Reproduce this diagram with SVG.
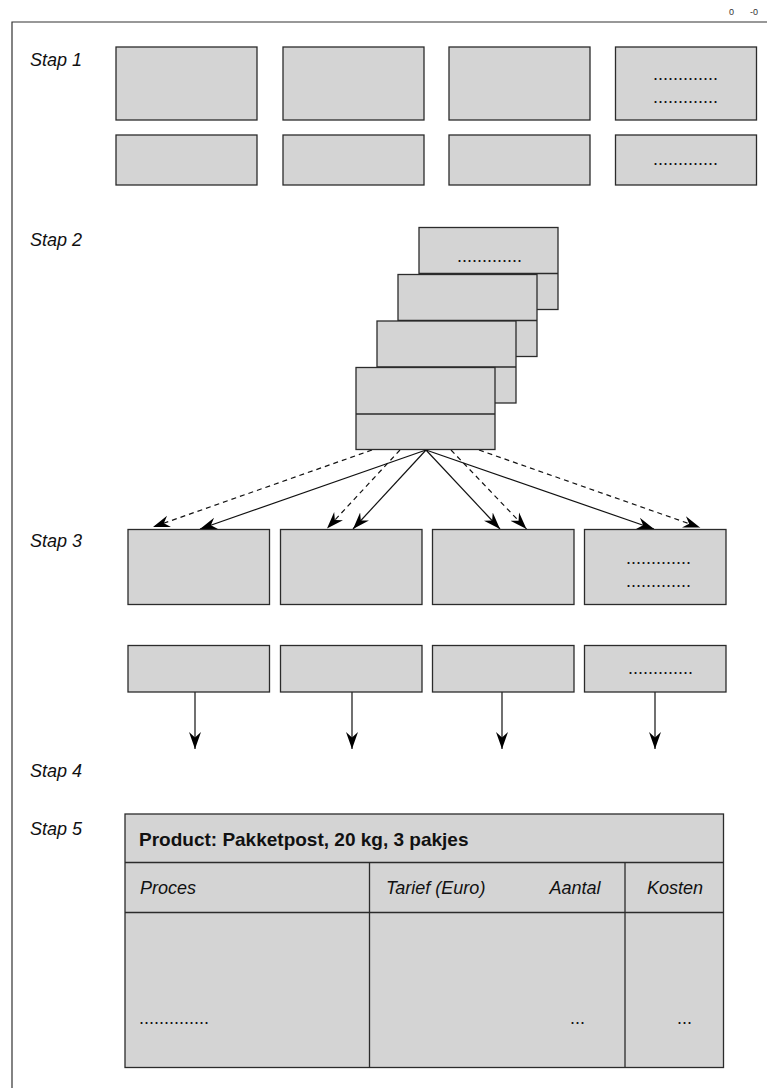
<svg xmlns="http://www.w3.org/2000/svg" width="767" height="1088" viewBox="0 0 767 1088">
<style>
.bg{fill:#ffffff}
.frame{fill:none;stroke:#333;stroke-width:1.2}
.box{fill:#d4d4d4;stroke:#2b2b2b;stroke-width:1.3}
.ln{stroke:#2b2b2b;stroke-width:1.3;fill:none}
.t{font-family:"Liberation Sans",Arial,sans-serif;font-size:18px;fill:#111}
.it{font-style:italic}
.b{font-weight:bold;font-size:19px}
.sm{font-size:9px;fill:#333}
.con{stroke:#111;stroke-width:1.2;fill:none;marker-end:url(#ah)}
.dash{stroke-dasharray:5,4}
</style>
<defs>
<marker id="ah" markerUnits="userSpaceOnUse" markerWidth="20" markerHeight="14" refX="17" refY="6" orient="auto" viewBox="0 0 20 12">
<path d="M17,6 L0,0 L5.5,6 L0,12 Z" fill="#000"/>
</marker>
</defs>
<rect class="bg" x="0" y="0" width="767" height="1088"/>
<text class="t sm" x="729" y="15">0</text>
<text class="t sm" x="750" y="15">-0</text>
<path class="frame" d="M12,1090 L12,22 L770,22"/>

<g id="labels">
<text class="t it" x="30" y="66">Stap 1</text>
<text class="t it" x="30" y="246">Stap 2</text>
<text class="t it" x="30" y="547">Stap 3</text>
<text class="t it" x="30" y="777">Stap 4</text>
<text class="t it" x="30" y="835">Stap 5</text>
</g>

<g id="connectors">
<line class="con dash" x1="372" y1="450" x2="153" y2="527"/>
<line class="con dash" x1="400" y1="450" x2="327" y2="528.5"/>
<line class="con dash" x1="451" y1="450" x2="526.5" y2="529"/>
<line class="con dash" x1="479" y1="450" x2="700" y2="527.5"/>
<line class="con" x1="426" y1="450" x2="200" y2="529"/>
<line class="con" x1="426" y1="450" x2="353" y2="529"/>
<line class="con" x1="426" y1="450" x2="500" y2="529"/>
<line class="con" x1="426" y1="450" x2="654" y2="529"/>
<line class="con" x1="195" y1="692" x2="195" y2="749"/>
<line class="con" x1="352" y1="692" x2="352" y2="749"/>
<line class="con" x1="502" y1="692" x2="502" y2="749"/>
<line class="con" x1="655" y1="692" x2="655" y2="749"/>
</g>

<g id="s1-a1"><rect class="box" x="116" y="47" width="141" height="73"/></g>
<g id="s1-a2"><rect class="box" x="283" y="47" width="141" height="73"/></g>
<g id="s1-a3"><rect class="box" x="449" y="47" width="141" height="73"/></g>
<g id="s1-a4"><rect class="box" x="615.5" y="47" width="141" height="73"/>
<text class="t" x="653" y="80">.............</text>
<text class="t" x="653" y="103">.............</text></g>
<g id="s1-b1"><rect class="box" x="116" y="135" width="141" height="50"/></g>
<g id="s1-b2"><rect class="box" x="283" y="135" width="141" height="50"/></g>
<g id="s1-b3"><rect class="box" x="449" y="135" width="141" height="50"/></g>
<g id="s1-b4"><rect class="box" x="615.5" y="135" width="141" height="50"/>
<text class="t" x="653" y="165">.............</text></g>

<g id="s2-card1"><rect class="box" x="419" y="227.5" width="139" height="82"/><line class="ln" x1="419" y1="273.5" x2="558" y2="273.5"/>
<text class="t" x="457" y="262">.............</text></g>
<g id="s2-card2"><rect class="box" x="398" y="274.5" width="139" height="82"/><line class="ln" x1="398" y1="320.5" x2="537" y2="320.5"/></g>
<g id="s2-card3"><rect class="box" x="377" y="321" width="139" height="82"/><line class="ln" x1="377" y1="367" x2="516" y2="367"/></g>
<g id="s2-card4"><rect class="box" x="356" y="367.5" width="139" height="82"/><line class="ln" x1="356" y1="414" x2="495" y2="414"/></g>

<g id="s3-a1"><rect class="box" x="128" y="529.5" width="141.5" height="75"/></g>
<g id="s3-a2"><rect class="box" x="280.5" y="529.5" width="141.5" height="75"/></g>
<g id="s3-a3"><rect class="box" x="432.5" y="529.5" width="141.5" height="75"/></g>
<g id="s3-a4"><rect class="box" x="584.5" y="529.5" width="141.5" height="75"/>
<text class="t" x="626" y="564">.............</text>
<text class="t" x="626" y="587">.............</text></g>
<g id="s3-b1"><rect class="box" x="128" y="645.5" width="141.5" height="46.5"/></g>
<g id="s3-b2"><rect class="box" x="280.5" y="645.5" width="141.5" height="46.5"/></g>
<g id="s3-b3"><rect class="box" x="432.5" y="645.5" width="141.5" height="46.5"/></g>
<g id="s3-b4"><rect class="box" x="584.5" y="645.5" width="141.5" height="46.5"/>
<text class="t" x="628" y="674">.............</text></g>

<g id="s5-table">
<rect class="box" x="125" y="814" width="598.5" height="253.5"/>
<line class="ln" x1="125" y1="862.5" x2="723.5" y2="862.5"/>
<line class="ln" x1="125" y1="912.5" x2="723.5" y2="912.5"/>
<line class="ln" x1="369.5" y1="862.5" x2="369.5" y2="1067.5"/>
<line class="ln" x1="625" y1="862.5" x2="625" y2="1067.5"/>
<text class="t b" x="139" y="846">Product: Pakketpost, 20 kg, 3 pakjes</text>
<text class="t it" x="140" y="894">Proces</text>
<text class="t it" x="386" y="894">Tarief (Euro)</text>
<text class="t it" x="549.5" y="894">Aantal</text>
<text class="t it" x="647" y="894">Kosten</text>
<text class="t" x="139" y="1024">..............</text>
<text class="t" x="570" y="1024">...</text>
<text class="t" x="677" y="1024">...</text>
</g>
</svg>
